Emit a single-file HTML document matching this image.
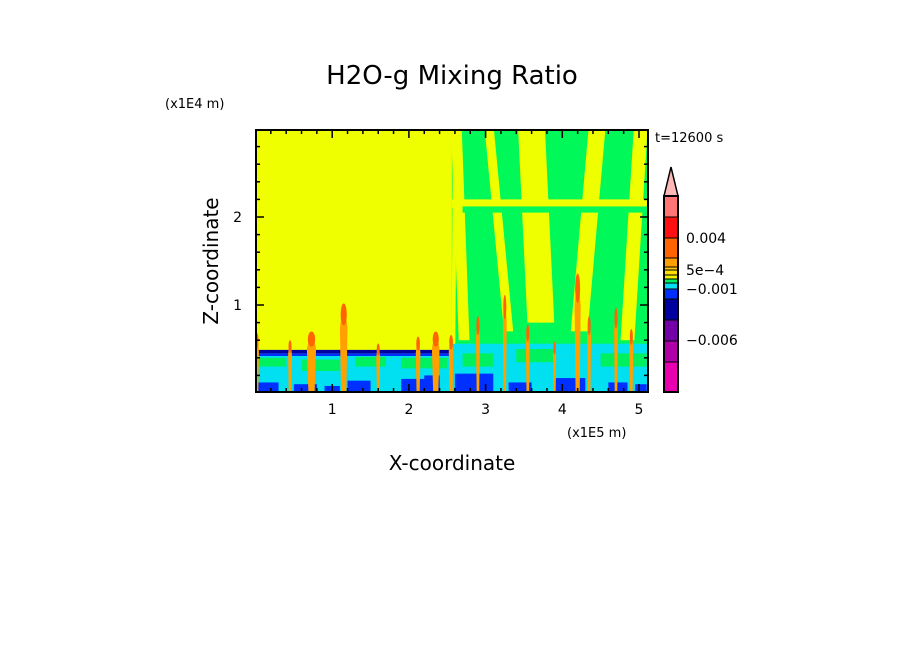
<!DOCTYPE html>
<html><head><meta charset="utf-8"><style>
body{margin:0;background:#fff;width:904px;height:654px;overflow:hidden;font-family:"Liberation Sans",sans-serif}
svg text{font-family:"DejaVu Sans","Liberation Sans",sans-serif}
</style></head><body>
<svg id="chart" width="904" height="654" xmlns="http://www.w3.org/2000/svg">
<text x="452" y="84" text-anchor="middle" font-size="26" fill="#000">H2O-g Mixing Ratio</text>
<text x="165" y="108" font-size="13" fill="#000">(x1E4 m)</text>
<text x="567" y="437" font-size="13" fill="#000">(x1E5 m)</text>
<text x="655" y="142" font-size="13" fill="#000">t=12600 s</text>
<text x="452" y="470" text-anchor="middle" font-size="20" fill="#000">X-coordinate</text>
<text transform="translate(218,261) rotate(-90)" text-anchor="middle" font-size="20" fill="#000">Z-coordinate</text>
<defs><clipPath id="pc"><rect x="256" y="130" width="392" height="262"/></clipPath></defs>
<g id="field" clip-path="url(#pc)"></g>
<g id="axes"></g>
<g id="cbar"></g>
</svg>
<script>
// axis data
const xTicks=[1,2,3,4,5];
const zTicks=[1,2];
// streaks of yellow in the green upper-right region: bottom x, top x, width, bottom z
const streakXBottom=[2.72,3.3,3.72,4.22,4.85,2.58];
const streakXTop=[2.62,3.05,3.6,4.45,5.02,2.6];
const streakWidth=[0.14,0.12,0.35,0.22,0.18,0.05];
const streakZBottom=[0.6,0.7,0.8,0.7,0.6,0.5];
// convective plumes: x, top z, width
const plumeX=[0.02,0.45,0.73,1.15,1.6,2.12,2.35,2.55,2.9,3.25,3.55,4.2,4.35,4.9,3.9,4.7];
const plumeTop=[0.7,0.62,0.72,1.05,0.58,0.66,0.72,0.68,0.9,1.15,0.8,1.4,0.9,0.75,0.6,1.0];
const plumeW=[0.05,0.05,0.12,0.1,0.05,0.06,0.1,0.06,0.05,0.05,0.05,0.08,0.05,0.05,0.04,0.05];
// low-level green patches: x start, x end, z bottom, z top
const greenX0=[0.0,0.6,1.3,1.9,2.7,3.4,4.5];
const greenX1=[0.4,1.1,1.7,2.5,3.1,3.9,5.1];
const greenZ0=[0.3,0.25,0.3,0.28,0.3,0.35,0.3];
const greenZ1=[0.4,0.38,0.41,0.4,0.45,0.5,0.45];
// low-level blue patches: x start, x end, z top
const blueX0=[0.0,0.5,1.2,1.9,2.6,3.3,3.9,4.6,4.95,0.9,2.2];
const blueX1=[0.3,0.8,1.5,2.4,3.1,3.6,4.3,4.85,5.1,1.1,2.4];
const blueTop=[0.12,0.1,0.14,0.16,0.22,0.12,0.17,0.12,0.1,0.08,0.2];
// colorbar levels (bottom to top) colors and labels
const cbColors=['#e800b0','#b000a8','#7400a8','#0000a0','#0030ff','#00e0f0','#00f060','#f0f000','#ffe000','#ffc800','#ffa000','#ff6400','#ff1010','#ff7474'];
const cbEdges=[392,362,341,320,299,289,283,279,275,270,267,258,238,217,196];
const cbLabels=['-0.006','-0.001','5e-4','0.004'];
const cbLabelY=[345,294,275,243];

const NS='http://www.w3.org/2000/svg';
const X=v=>255.5+v*76.7, Z=v=>393-v*88;
function mk(p,tag,at){const e=document.createElementNS(NS,tag);for(const k in at)e.setAttribute(k,at[k]);p.appendChild(e);return e;}
const F=document.getElementById('field');
let r=mk(F,'rect',{x:256,y:130,width:392,height:262,fill:'#f0ff00'});

r=mk(F,'rect',{x:X(2.56),y:130,width:300,height:Z(0.45)-130,fill:'#00f858'});

for(let i=0;i<streakXBottom.length;i++){
 const w=streakWidth[i],b=streakZBottom[i];
 const pts=[[streakXBottom[i]-w/2,b],[streakXBottom[i]+w/2,b],[streakXTop[i]+w/2,2.98],[streakXTop[i]-w/2,2.98]];
 const p=mk(F,'polygon',{points:pts.map(q=>X(q[0])+','+Z(q[1])).join(' '),fill:'#f0ff00'});
 
}
r=mk(F,'rect',{x:X(2.56),y:Z(2.2),width:300,height:Z(2.1)-Z(2.2),fill:'#f0ff00'});

r=mk(F,'rect',{x:X(2.7),y:Z(2.12),width:260,height:Z(2.05)-Z(2.12),fill:'#00f858'});

r=mk(F,'rect',{x:256,y:Z(0.49),width:X(2.56)-256,height:Z(0.45)-Z(0.49),fill:'#0000a0'});

r=mk(F,'rect',{x:256,y:Z(0.45),width:X(2.56)-256,height:Z(0.42)-Z(0.45),fill:'#0030ff'});

r=mk(F,'rect',{x:256,y:Z(0.42),width:392,height:Z(0.0)-Z(0.42),fill:'#00e0f0'});

r=mk(F,'rect',{x:X(2.56),y:Z(0.56),width:300,height:Z(0.42)-Z(0.56),fill:'#00e0f0'});

for(let i=0;i<greenX0.length;i++){
 const g=mk(F,'rect',{x:X(greenX0[i]),y:Z(greenZ1[i]),width:X(greenX1[i])-X(greenX0[i]),height:Z(greenZ0[i])-Z(greenZ1[i]),fill:'#00f060'});
 
}
for(let i=0;i<blueX0.length;i++){
 const b=mk(F,'rect',{x:X(blueX0[i]),y:Z(blueTop[i]),width:X(blueX1[i])-X(blueX0[i]),height:Z(0)-Z(blueTop[i]),fill:'#0030ff'});
 
}
r=mk(F,'rect',{x:256,y:Z(0.02),width:392,height:10,fill:'#f0ff00'});

for(let i=0;i<plumeX.length;i++){
 const cx=X(plumeX[i]),w=plumeW[i]*76.7,t=Z(plumeTop[i]);
 const p=mk(F,'path',{d:`M${cx-w/3},${Z(0)} L${cx-w/2},${Z(plumeTop[i]*0.7)} Q${cx},${t-6} ${cx+w/2},${Z(plumeTop[i]*0.7)} L${cx+w/3},${Z(0)} Z`,fill:'#ffa000'});
 
 const c=mk(F,'ellipse',{cx:cx,cy:Z(plumeTop[i]*0.85),rx:w/2.5,ry:(Z(0)-t)*0.12,fill:'#ff6400'});
 
}
const A=document.getElementById('axes');
r=mk(A,'rect',{x:256,y:130,width:392,height:262,fill:'none',stroke:'#000','stroke-width':2});

for(let v=0.2;v<5.15;v+=0.2){const x=X(v),L=Math.abs(v-Math.round(v))<0.01?8:4;
 mk(A,'line',{x1:x,y1:392,x2:x,y2:392-L,stroke:'#000','stroke-width':1.5});mk(A,'line',{x1:x,y1:130,x2:x,y2:130+L,stroke:'#000','stroke-width':1.5});}
for(let v=0.2;v<2.95;v+=0.2){const y=Z(v),L=Math.abs(v-Math.round(v))<0.01?8:4;
 mk(A,'line',{x1:256,y1:y,x2:256+L,y2:y,stroke:'#000','stroke-width':1.5});mk(A,'line',{x1:648,y1:y,x2:648-L,y2:y,stroke:'#000','stroke-width':1.5});}
xTicks.forEach(v=>{const t=mk(A,'text',{x:X(v),y:414,'text-anchor':'middle','font-size':14});t.textContent=v;
 });
zTicks.forEach(v=>{const t=mk(A,'text',{x:242,y:Z(v)+5,'text-anchor':'end','font-size':14});t.textContent=v;
 });
const C=document.getElementById('cbar');
for(let i=0;i<cbColors.length;i++){
 const s=mk(C,'rect',{x:664,y:cbEdges[i+1],width:14,height:cbEdges[i]-cbEdges[i+1],fill:cbColors[i],stroke:'#000','stroke-width':1});
 
}
const tri=mk(C,'polygon',{points:'664,196 678,196 671,167',fill:'#ffb8b8',stroke:'#000','stroke-width':1.5});

mk(C,'rect',{x:664,y:196,width:14,height:196,fill:'none',stroke:'#000','stroke-width':2});
cbLabels.forEach((l,i)=>{const t=mk(C,'text',{x:686,y:cbLabelY[i],'font-size':14});t.textContent=l.replace('-','\u2212');
 });
</script>
</body></html>
